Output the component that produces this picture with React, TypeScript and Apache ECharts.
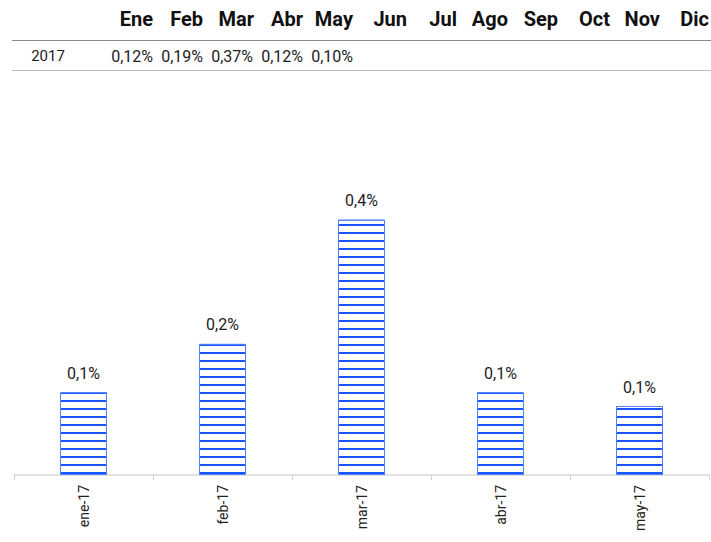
import React, { useEffect, useRef } from "react";
import * as echarts from "echarts";

const categories = ["ene-17", "feb-17", "mar-17", "abr-17", "may-17"];
const values = [0.12, 0.19, 0.37, 0.12, 0.1];
const tableMonths = ["Ene", "Feb", "Mar", "Abr", "May", "Jun", "Jul", "Ago", "Sep", "Oct", "Nov", "Dic"];
const tableYear = "2017";

const FONT = "Roboto, 'Noto Sans', sans-serif";
const headerRight = [153, 203, 254, 303, 353, 407, 457, 508, 558, 610, 660, 709];
const valueRight = [153, 203, 253, 303, 353];

export default function App() {
  const ref = useRef<HTMLDivElement>(null);
  useEffect(() => {
    if (!ref.current) return;
    const chart = echarts.init(ref.current, null, { renderer: "svg" });
    const fmt = (v: number, d: number) => v.toFixed(d).replace(".", ",") + "%";
    const graphic: any[] = [];
    tableMonths.forEach((m, i) => {
      graphic.push({
        type: "text",
        x: headerRight[i],
        y: 19,
        style: { text: m, font: `bold 20px ${FONT}`, fill: "#111", align: "right", verticalAlign: "middle" },
      });
    });
    graphic.push({
      type: "line",
      shape: { x1: 12, y1: 40.5, x2: 711, y2: 40.5 },
      style: { stroke: "#8a8a8a", lineWidth: 1.2 },
    });
    graphic.push({
      type: "text",
      x: 48,
      y: 56,
      style: { text: tableYear, font: `15px ${FONT}`, fill: "#222", align: "center", verticalAlign: "middle" },
    });
    values.forEach((v, i) => {
      graphic.push({
        type: "text",
        x: valueRight[i],
        y: 56.5,
        style: { text: fmt(v, 2), font: `16px ${FONT}`, fill: "#222", align: "right", verticalAlign: "middle" },
      });
    });
    graphic.push({
      type: "line",
      shape: { x1: 12, y1: 70.5, x2: 711, y2: 70.5 },
      style: { stroke: "#bdbdbd", lineWidth: 1.2 },
    });

    chart.setOption({
      animation: false,
      backgroundColor: "#fff",
      grid: { left: 14, right: 2, top: 199, bottom: 67, containLabel: false },
      graphic,
      xAxis: {
        type: "category",
        data: categories,
        boundaryGap: true,
        axisLine: { show: true, lineStyle: { color: "#d9d9d9", width: 1.5 } },
        axisTick: { show: true, alignWithLabel: false, length: 5, lineStyle: { color: "#d0d0d0" } },
        axisLabel: { rotate: 90, margin: 10, color: "#222", fontSize: 14, fontFamily: FONT },
      },
      yAxis: {
        type: "value",
        min: 0,
        max: 0.4,
        show: false,
        splitLine: { show: false },
      },
      series: [
        {
          type: "bar",
          data: values,
          barWidth: 47,
          itemStyle: {
            color: "#ffffff",
            borderColor: "#4f80ff",
            borderWidth: 1,
            decal: {
              symbol: "rect",
              symbolSize: 1,
              color: "#1a56ff",
              dashArrayX: [1, 0],
              dashArrayY: [2, 6],
              rotation: 0,
            },
          },
          label: {
            show: true,
            position: "top",
            distance: 11,
            color: "#222",
            fontSize: 16,
            fontFamily: FONT,
            formatter: (p: any) => fmt(p.value, 1),
          },
        },
      ],
    });
    return () => chart.dispose();
  }, []);
  return <div ref={ref} style={{ position: "fixed", left: 0, top: 0, width: 711, height: 542 }} />;
}
